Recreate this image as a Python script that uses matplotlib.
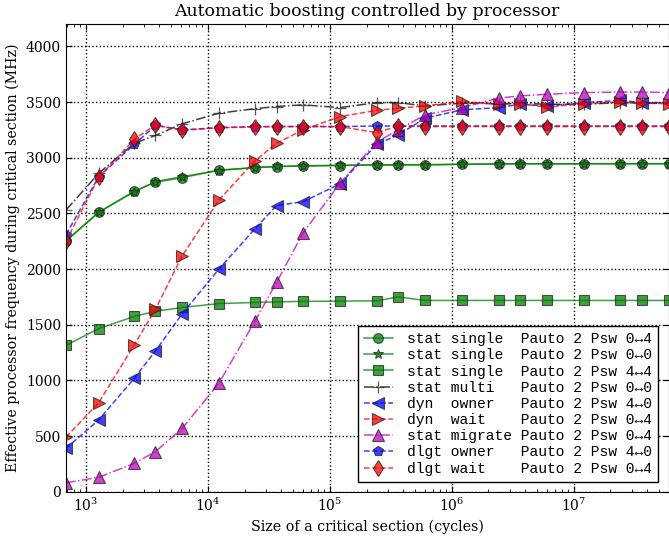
import matplotlib
matplotlib.use("Agg")
import matplotlib.pyplot as plt
from matplotlib.ticker import LogLocator, MultipleLocator

plt.rcParams['font.family'] = ['DejaVu Serif']
plt.rcParams['mathtext.fontset'] = 'dejavuserif'

# x: size of critical section (cycles)
sizes = [685, 1270, 2490, 3710, 6160, 12300, 24200, 36500, 60300, 121000,
         242000, 364000, 604000, 1210000, 2420000, 3600000, 6040000,
         12100000, 24200000, 36200000, 60000000]

stat_single_04 = [2250, 2510, 2700, 2780, 2820, 2890, 2910, 2920, 2925, 2930, 2935,
                  2935, 2935, 2940, 2945, 2945, 2945, 2945, 2945, 2945, 2945]
stat_single_00 = [2255, 2510, 2695, 2785, 2830, 2885, 2912, 2922, 2928, 2932, 2936,
                  2937, 2938, 2942, 2944, 2946, 2946, 2946, 2947, 2947, 2947]
stat_single_44 = [1315, 1465, 1575, 1620, 1655, 1690, 1700, 1705, 1710, 1712, 1715,
                  1750, 1718, 1718, 1718, 1718, 1718, 1718, 1718, 1718, 1718]
stat_multi_00 = [2530, 2860, 3130, 3200, 3305, 3400, 3440, 3460, 3475, 3450, 3495,
                 3495, 3465, 3490, 3485, 3490, 3480, 3480, 3495, 3490, 3490]
dyn_owner_40 = [390, 645, 1020, 1265, 1600, 2000, 2360, 2570, 2605, 2765, 3120,
                3205, 3355, 3430, 3450, 3480, 3465, 3495, 3515, 3495, 3495]
dyn_wait_04 = [490, 800, 1320, 1640, 2120, 2620, 2970, 3130, 3250, 3370, 3425,
               3445, 3465, 3505, 3480, 3485, 3455, 3485, 3500, 3490, 3485]
stat_migrate_04 = [80, 130, 255, 360, 570, 975, 1530, 1880, 2325, 2770, 3140,
                   3250, 3385, 3450, 3535, 3555, 3570, 3585, 3590, 3590, 3585]
dlgt_owner_40 = [2310, 2830, 3120, 3290, 3250, 3270, 3280, 3280, 3280, 3280, 3285,
                 3285, 3285, 3285, 3285, 3285, 3285, 3285, 3285, 3285, 3285]
dlgt_wait_04 = [2250, 2825, 3165, 3295, 3245, 3270, 3275, 3280, 3280, 3280, 3225,
                3285, 3280, 3280, 3280, 3280, 3280, 3280, 3280, 3280, 3280]

labels = [
    "stat single  Pauto 2 Psw 0\u21944",
    "stat single  Pauto 2 Psw 0\u21940",
    "stat single  Pauto 2 Psw 4\u21944",
    "stat multi   Pauto 2 Psw 0\u21940",
    "dyn  owner   Pauto 2 Psw 4\u21940",
    "dyn  wait    Pauto 2 Psw 0\u21944",
    "stat migrate Pauto 2 Psw 0\u21944",
    "dlgt owner   Pauto 2 Psw 4\u21940",
    "dlgt wait    Pauto 2 Psw 0\u21944",
]

series = [stat_single_04, stat_single_00, stat_single_44, stat_multi_00,
          dyn_owner_40, dyn_wait_04, stat_migrate_04, dlgt_owner_40, dlgt_wait_04]

styles = [
    dict(color='#008000', ls='-', marker='o', ms=7),
    dict(color='#008000', ls='-', marker='*', ms=7),
    dict(color='#008000', ls='-', marker='s', ms=7),
    dict(color='black', ls='-.', marker='+', ms=9),
    dict(color='#0000ff', ls='--', marker='<', ms=8),
    dict(color='#ff0000', ls='--', marker='>', ms=8),
    dict(color='#bf00bf', ls='-.', marker='^', ms=8),
    dict(color='#0000ff', ls='--', marker='p', ms=7),
    dict(color='#ff0000', ls='--', marker='d', ms=8),
]

fig = plt.figure(figsize=(6.69, 5.36), dpi=100)
ax = fig.add_axes([0.0987, 0.0826, 0.9006, 0.8724])

for y, lab, st in zip(series, labels, styles):
    ax.plot(sizes, y, color=st['color'], linestyle=st['ls'], linewidth=1.1,
            marker=st['marker'], markersize=st['ms'], markerfacecolor=st['color'],
            markeredgecolor='#222222', markeredgewidth=0.8 if st['marker'] != '+' else 0.9,
            alpha=0.75, label=lab)

ax.set_xscale('log')
ax.set_xlim(min(sizes), max(sizes))
ax.set_ylim(0, 4200)
ax.yaxis.set_major_locator(MultipleLocator(500))
ax.xaxis.set_major_locator(LogLocator(base=10))
ax.xaxis.set_minor_locator(LogLocator(base=10, subs=range(2, 10)))
ax.tick_params(which='both', direction='in', top=True, right=True, labelsize=10)
ax.tick_params(which='major', length=4)
ax.tick_params(which='minor', length=2)
ax.grid(True, which='major', linestyle=':', color='black', linewidth=1.0)

ax.set_title("Automatic boosting controlled by processor", fontsize=12.5)
ax.set_xlabel("Size of a critical section (cycles)", fontsize=10.3)
ax.set_ylabel("Effective processor frequency during critical section (MHz)", fontsize=10.2)

leg = ax.legend(loc='lower right', numpoints=1, handlelength=2.0,
                prop=dict(family=['Liberation Mono', 'DejaVu Sans Mono'], size=10.5),
                labelspacing=0.15, borderpad=0.4, handletextpad=1.0,
                fancybox=False, framealpha=1.0, borderaxespad=0.7)
leg.get_frame().set_edgecolor('black')
leg.get_frame().set_linewidth(1.0)

fig.savefig("out.png", dpi=100)
